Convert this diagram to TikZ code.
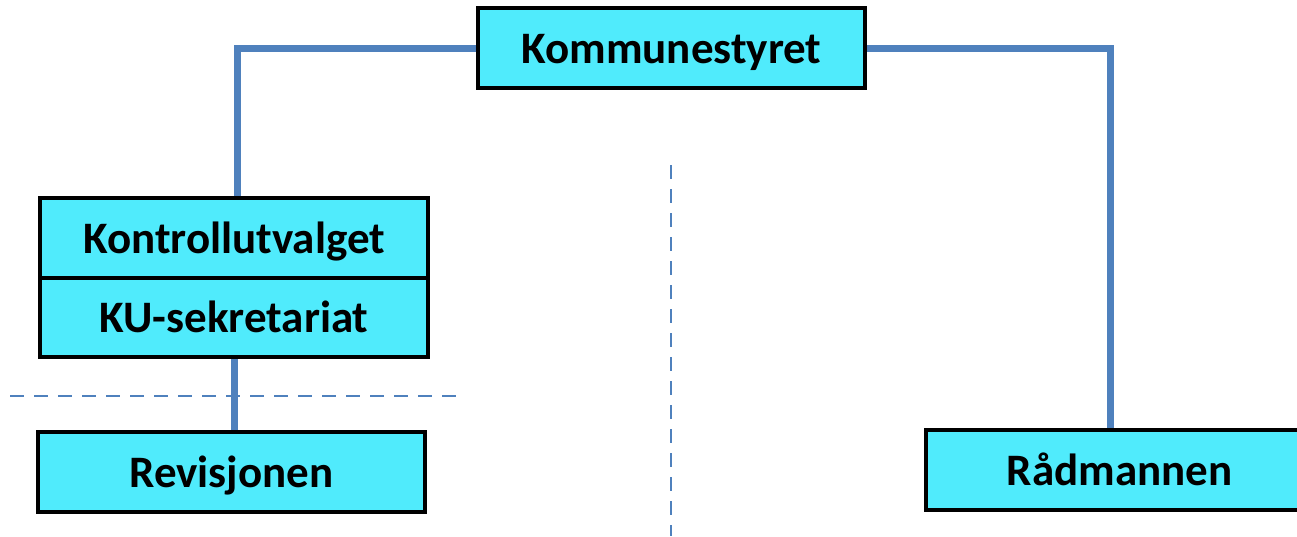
\documentclass[tikz,border=0pt]{standalone}
\usepackage{fontspec}
\setmainfont{Carlito}
\definecolor{boxcyan}{RGB}{80,235,252}
\definecolor{lineblue}{RGB}{79,129,189}
\begin{document}
\begin{tikzpicture}
[x=1pt,y=-1pt,
 unit/.style={shape=rectangle,draw=black,line width=4pt,fill=boxcyan,
   minimum width=387pt,minimum height=80pt,inner sep=0pt,
   text height=30pt,text depth=0pt,
   font=\fontsize{45}{50}\selectfont\bfseries},
 link/.style={draw=lineblue,line width=7pt},
 border/.style={draw=lineblue,line width=2pt,dash pattern=on 14pt off 10pt}]
\useasboundingbox (0,0) rectangle (1297,536);
\path (671.5,48) node (kom) [unit] {Kommunestyret}
(234,238) node (kon) [unit,minimum width=388pt] {Kontrollutvalget}
(234,317.5) node (kus) [unit,minimum width=388pt,minimum height=79pt] {KU-sekretariat}
(231.5,472) node (rev) [unit] {Revisjonen}
(1119.5,470) node (rad) [unit] {Rådmannen};
\draw [link] (kom.west) -| ([xshift=3pt]kon.north);
\draw [link] (kom.east) -| ([xshift=-9pt]rad.north);
\draw [link] (kus.south) -- (kus.south |- rev.north);
\draw [border] (10,396) -- (460,396);
\draw [border] (671,165) -- (671,536);
\end{tikzpicture}
\end{document}
